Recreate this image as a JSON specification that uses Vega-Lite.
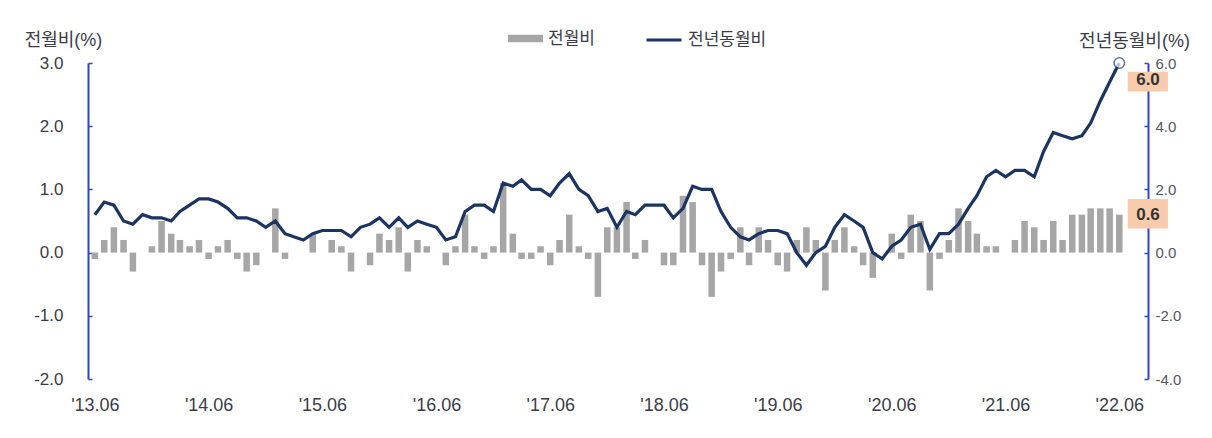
{
  "$schema": "https://vega.github.io/schema/vega-lite/v6.json",
  "width": 1060,
  "height": 316,
  "autosize": {"type": "none"},
  "padding": {"left": 88, "top": 63, "right": 64, "bottom": 59},
  "background": "white",
  "config": {
    "view": {"stroke": null},
    "font": "Liberation Sans, Noto Sans CJK KR, sans-serif"
  },
  "data": {
    "values": [
      {"d": "2013-06-01", "mom": -0.1, "yoy": 1.2},
      {"d": "2013-07-01", "mom": 0.2, "yoy": 1.6},
      {"d": "2013-08-01", "mom": 0.4, "yoy": 1.5},
      {"d": "2013-09-01", "mom": 0.2, "yoy": 1.0},
      {"d": "2013-10-01", "mom": -0.3, "yoy": 0.9},
      {"d": "2013-11-01", "mom": 0.0, "yoy": 1.2},
      {"d": "2013-12-01", "mom": 0.1, "yoy": 1.1},
      {"d": "2014-01-01", "mom": 0.5, "yoy": 1.1},
      {"d": "2014-02-01", "mom": 0.3, "yoy": 1.0},
      {"d": "2014-03-01", "mom": 0.2, "yoy": 1.3},
      {"d": "2014-04-01", "mom": 0.1, "yoy": 1.5},
      {"d": "2014-05-01", "mom": 0.2, "yoy": 1.7},
      {"d": "2014-06-01", "mom": -0.1, "yoy": 1.7},
      {"d": "2014-07-01", "mom": 0.1, "yoy": 1.6},
      {"d": "2014-08-01", "mom": 0.2, "yoy": 1.4},
      {"d": "2014-09-01", "mom": -0.1, "yoy": 1.1},
      {"d": "2014-10-01", "mom": -0.3, "yoy": 1.1},
      {"d": "2014-11-01", "mom": -0.2, "yoy": 1.0},
      {"d": "2014-12-01", "mom": 0.0, "yoy": 0.8},
      {"d": "2015-01-01", "mom": 0.7, "yoy": 1.0},
      {"d": "2015-02-01", "mom": -0.1, "yoy": 0.6},
      {"d": "2015-03-01", "mom": 0.0, "yoy": 0.5},
      {"d": "2015-04-01", "mom": 0.0, "yoy": 0.4},
      {"d": "2015-05-01", "mom": 0.3, "yoy": 0.6},
      {"d": "2015-06-01", "mom": 0.0, "yoy": 0.7},
      {"d": "2015-07-01", "mom": 0.2, "yoy": 0.7},
      {"d": "2015-08-01", "mom": 0.1, "yoy": 0.7},
      {"d": "2015-09-01", "mom": -0.3, "yoy": 0.5},
      {"d": "2015-10-01", "mom": 0.0, "yoy": 0.8},
      {"d": "2015-11-01", "mom": -0.2, "yoy": 0.9},
      {"d": "2015-12-01", "mom": 0.3, "yoy": 1.1},
      {"d": "2016-01-01", "mom": 0.2, "yoy": 0.8},
      {"d": "2016-02-01", "mom": 0.4, "yoy": 1.1},
      {"d": "2016-03-01", "mom": -0.3, "yoy": 0.8},
      {"d": "2016-04-01", "mom": 0.2, "yoy": 1.0},
      {"d": "2016-05-01", "mom": 0.1, "yoy": 0.9},
      {"d": "2016-06-01", "mom": 0.0, "yoy": 0.8},
      {"d": "2016-07-01", "mom": -0.2, "yoy": 0.4},
      {"d": "2016-08-01", "mom": 0.1, "yoy": 0.5},
      {"d": "2016-09-01", "mom": 0.6, "yoy": 1.3},
      {"d": "2016-10-01", "mom": 0.1, "yoy": 1.5},
      {"d": "2016-11-01", "mom": -0.1, "yoy": 1.5},
      {"d": "2016-12-01", "mom": 0.1, "yoy": 1.3},
      {"d": "2017-01-01", "mom": 1.1, "yoy": 2.2},
      {"d": "2017-02-01", "mom": 0.3, "yoy": 2.1},
      {"d": "2017-03-01", "mom": -0.1, "yoy": 2.3},
      {"d": "2017-04-01", "mom": -0.1, "yoy": 2.0},
      {"d": "2017-05-01", "mom": 0.1, "yoy": 2.0},
      {"d": "2017-06-01", "mom": -0.2, "yoy": 1.8},
      {"d": "2017-07-01", "mom": 0.2, "yoy": 2.2},
      {"d": "2017-08-01", "mom": 0.6, "yoy": 2.5},
      {"d": "2017-09-01", "mom": 0.1, "yoy": 2.0},
      {"d": "2017-10-01", "mom": -0.1, "yoy": 1.8},
      {"d": "2017-11-01", "mom": -0.7, "yoy": 1.3},
      {"d": "2017-12-01", "mom": 0.4, "yoy": 1.4},
      {"d": "2018-01-01", "mom": 0.4, "yoy": 0.8},
      {"d": "2018-02-01", "mom": 0.8, "yoy": 1.3},
      {"d": "2018-03-01", "mom": -0.1, "yoy": 1.2},
      {"d": "2018-04-01", "mom": 0.2, "yoy": 1.5},
      {"d": "2018-05-01", "mom": 0.0, "yoy": 1.5},
      {"d": "2018-06-01", "mom": -0.2, "yoy": 1.5},
      {"d": "2018-07-01", "mom": -0.2, "yoy": 1.1},
      {"d": "2018-08-01", "mom": 0.9, "yoy": 1.4},
      {"d": "2018-09-01", "mom": 0.8, "yoy": 2.1},
      {"d": "2018-10-01", "mom": -0.2, "yoy": 2.0},
      {"d": "2018-11-01", "mom": -0.7, "yoy": 2.0},
      {"d": "2018-12-01", "mom": -0.3, "yoy": 1.3},
      {"d": "2019-01-01", "mom": -0.1, "yoy": 0.8},
      {"d": "2019-02-01", "mom": 0.4, "yoy": 0.5},
      {"d": "2019-03-01", "mom": -0.2, "yoy": 0.4},
      {"d": "2019-04-01", "mom": 0.4, "yoy": 0.6},
      {"d": "2019-05-01", "mom": 0.2, "yoy": 0.7},
      {"d": "2019-06-01", "mom": -0.2, "yoy": 0.7},
      {"d": "2019-07-01", "mom": -0.3, "yoy": 0.6},
      {"d": "2019-08-01", "mom": 0.2, "yoy": 0.0},
      {"d": "2019-09-01", "mom": 0.4, "yoy": -0.4},
      {"d": "2019-10-01", "mom": 0.2, "yoy": 0.0},
      {"d": "2019-11-01", "mom": -0.6, "yoy": 0.2},
      {"d": "2019-12-01", "mom": 0.2, "yoy": 0.8},
      {"d": "2020-01-01", "mom": 0.4, "yoy": 1.2},
      {"d": "2020-02-01", "mom": 0.1, "yoy": 1.0},
      {"d": "2020-03-01", "mom": -0.2, "yoy": 0.8},
      {"d": "2020-04-01", "mom": -0.4, "yoy": 0.0},
      {"d": "2020-05-01", "mom": 0.0, "yoy": -0.2},
      {"d": "2020-06-01", "mom": 0.3, "yoy": 0.2},
      {"d": "2020-07-01", "mom": -0.1, "yoy": 0.4},
      {"d": "2020-08-01", "mom": 0.6, "yoy": 0.8},
      {"d": "2020-09-01", "mom": 0.5, "yoy": 0.9},
      {"d": "2020-10-01", "mom": -0.6, "yoy": 0.1},
      {"d": "2020-11-01", "mom": -0.1, "yoy": 0.6},
      {"d": "2020-12-01", "mom": 0.2, "yoy": 0.6},
      {"d": "2021-01-01", "mom": 0.7, "yoy": 0.9},
      {"d": "2021-02-01", "mom": 0.5, "yoy": 1.4},
      {"d": "2021-03-01", "mom": 0.3, "yoy": 1.8},
      {"d": "2021-04-01", "mom": 0.1, "yoy": 2.4},
      {"d": "2021-05-01", "mom": 0.1, "yoy": 2.6},
      {"d": "2021-06-01", "mom": 0.0, "yoy": 2.4},
      {"d": "2021-07-01", "mom": 0.2, "yoy": 2.6},
      {"d": "2021-08-01", "mom": 0.5, "yoy": 2.6},
      {"d": "2021-09-01", "mom": 0.4, "yoy": 2.4},
      {"d": "2021-10-01", "mom": 0.2, "yoy": 3.2},
      {"d": "2021-11-01", "mom": 0.5, "yoy": 3.8},
      {"d": "2021-12-01", "mom": 0.2, "yoy": 3.7},
      {"d": "2022-01-01", "mom": 0.6, "yoy": 3.6},
      {"d": "2022-02-01", "mom": 0.6, "yoy": 3.7},
      {"d": "2022-03-01", "mom": 0.7, "yoy": 4.1},
      {"d": "2022-04-01", "mom": 0.7, "yoy": 4.8},
      {"d": "2022-05-01", "mom": 0.7, "yoy": 5.4},
      {"d": "2022-06-01", "mom": 0.6, "yoy": 6.0}
    ]
  },
  "encoding": {
    "x": {
      "field": "d",
      "type": "temporal",
      "title": null,
      "scale": {
        "type": "utc",
        "domain": [
          {"year": 2013, "month": 5, "date": 26, "utc": true},
          {"year": 2022, "month": 8, "date": 16, "utc": true}
        ]
      },
      "axis": {
        "orient": "bottom",
        "values": [
          {"year": 2013, "month": 6, "date": 1, "utc": true},
          {"year": 2014, "month": 6, "date": 1, "utc": true},
          {"year": 2015, "month": 6, "date": 1, "utc": true},
          {"year": 2016, "month": 6, "date": 1, "utc": true},
          {"year": 2017, "month": 6, "date": 1, "utc": true},
          {"year": 2018, "month": 6, "date": 1, "utc": true},
          {"year": 2019, "month": 6, "date": 1, "utc": true},
          {"year": 2020, "month": 6, "date": 1, "utc": true},
          {"year": 2021, "month": 6, "date": 1, "utc": true},
          {"year": 2022, "month": 6, "date": 1, "utc": true}
        ],
        "labelExpr": "\"'\" + utcFormat(datum.value, '%y.%m')",
        "domain": false,
        "ticks": false,
        "tickSize": 0,
        "grid": false,
        "labelFontSize": 18,
        "labelColor": "#3c3c48",
        "labelPadding": 17,
        "labelFlush": false,
        "labelOverlap": false
      }
    }
  },
  "layer": [
    {
      "mark": {"type": "bar", "size": 6.5},
      "encoding": {
        "y": {
          "field": "mom",
          "type": "quantitative",
          "scale": {"domain": [-2, 3], "nice": false},
          "axis": {
            "orient": "left",
            "values": [-2, -1, 0, 1, 2, 3],
            "labelExpr": "replace(format(datum.value, '.1f'), '\u2212', '-')",
            "grid": false,
            "title": "전월비(%)",
            "titleAngle": 0,
            "titleAlign": "center",
            "titleBaseline": "middle",
            "titleX": -25,
            "titleY": -23,
            "titleFontSize": 18,
            "titleFontWeight": "normal",
            "titleColor": "#3c3c48",
            "labelFontSize": 17,
            "labelColor": "#3c3c48",
            "labelPadding": 29,
            "domainColor": "#3344cc",
            "domainWidth": 2,
            "tickColor": "#3344cc",
            "tickSize": -4,
            "tickWidth": 1.5
          }
        },
        "fill": {
          "datum": "전월비",
          "scale": {"domain": ["전월비"], "range": ["#a6a6a6"]},
          "legend": {
            "orient": "none",
            "legendX": 420,
            "legendY": -42,
            "title": null,
            "padding": 0,
            "symbolType": "M-1,-0.22H1V0.22H-1Z",
            "symbolSize": 1225,
            "symbolStrokeWidth": 0,
            "labelFontSize": 17,
            "labelColor": "#3c3c48",
            "labelOffset": 5
          }
        }
      }
    },
    {
      "mark": {"type": "rule", "color": "#222222", "strokeWidth": 1.8},
      "encoding": {
        "y": {"datum": 0, "scale": {"domain": [-2, 3], "nice": false}, "axis": null}
      }
    },
    {
      "mark": {"type": "line", "strokeWidth": 3.2},
      "encoding": {
        "y": {
          "field": "yoy",
          "type": "quantitative",
          "scale": {"domain": [-4, 6], "nice": false},
          "axis": {
            "orient": "right",
            "values": [-4, -2, 0, 2, 4, 6],
            "labelExpr": "replace(format(datum.value, '.1f'), '\u2212', '-')",
            "grid": false,
            "title": "전년동월비(%)",
            "titleAngle": 0,
            "titleAlign": "center",
            "titleBaseline": "middle",
            "titleX": -14,
            "titleY": -22,
            "titleFontSize": 18,
            "titleFontWeight": "normal",
            "titleColor": "#3c3c48",
            "labelFontSize": 15,
            "labelColor": "#55555f",
            "labelPadding": 11,
            "domainColor": "#3344cc",
            "domainWidth": 2,
            "tickColor": "#3344cc",
            "tickSize": -4,
            "tickWidth": 1.5
          }
        },
        "stroke": {
          "datum": "전년동월비",
          "scale": {"domain": ["전년동월비"], "range": ["#1c3462"]},
          "legend": {
            "orient": "none",
            "legendX": 557,
            "legendY": -42,
            "title": null,
            "padding": 0,
            "symbolType": "stroke",
            "symbolSize": 1225,
            "symbolStrokeWidth": 3,
            "labelFontSize": 17,
            "labelColor": "#3c3c48",
            "labelOffset": 5
          }
        }
      }
    },
    {
      "data": {"values": [{"d": "2022-06-01", "yoy": 6.0}]},
      "mark": {"type": "point", "shape": "circle", "size": 110, "filled": true, "fill": "white", "stroke": "#2a4080", "strokeWidth": 1.6},
      "encoding": {
        "y": {"field": "yoy", "type": "quantitative", "scale": {"domain": [-4, 6], "nice": false}, "axis": null}
      }
    },
    {
      "data": {"values": [{"d": "2022-06-28", "d2": "2022-11-04", "lo": 5.1, "hi": 5.72}]},
      "mark": {"type": "rect", "color": "#f8cbad"},
      "encoding": {
        "x2": {"field": "d2"},
        "y": {"field": "lo", "type": "quantitative", "scale": {"domain": [-4, 6], "nice": false}, "axis": null},
        "y2": {"field": "hi"}
      }
    },
    {
      "data": {"values": [{"d": "2022-06-28", "d2": "2022-11-04", "lo": 0.38, "hi": 0.85}]},
      "mark": {"type": "rect", "color": "#f8cbad"},
      "encoding": {
        "x2": {"field": "d2"},
        "y": {"field": "lo", "type": "quantitative", "scale": {"domain": [-2, 3], "nice": false}, "axis": null},
        "y2": {"field": "hi"}
      }
    },
    {
      "data": {"values": [{"d": "2022-09-01", "v": 5.45, "t": "6.0"}]},
      "mark": {"type": "text", "fontSize": 17, "fontWeight": "bold", "color": "#333333", "align": "center", "baseline": "middle"},
      "encoding": {
        "y": {"field": "v", "type": "quantitative", "scale": {"domain": [-4, 6], "nice": false}, "axis": null},
        "text": {"field": "t"}
      }
    },
    {
      "data": {"values": [{"d": "2022-09-01", "v": 0.6, "t": "0.6"}]},
      "mark": {"type": "text", "fontSize": 17, "fontWeight": "bold", "color": "#333333", "align": "center", "baseline": "middle"},
      "encoding": {
        "y": {"field": "v", "type": "quantitative", "scale": {"domain": [-2, 3], "nice": false}, "axis": null},
        "text": {"field": "t"}
      }
    }
  ],
  "resolve": {"scale": {"y": "independent"}, "axis": {"y": "independent"}}
}
